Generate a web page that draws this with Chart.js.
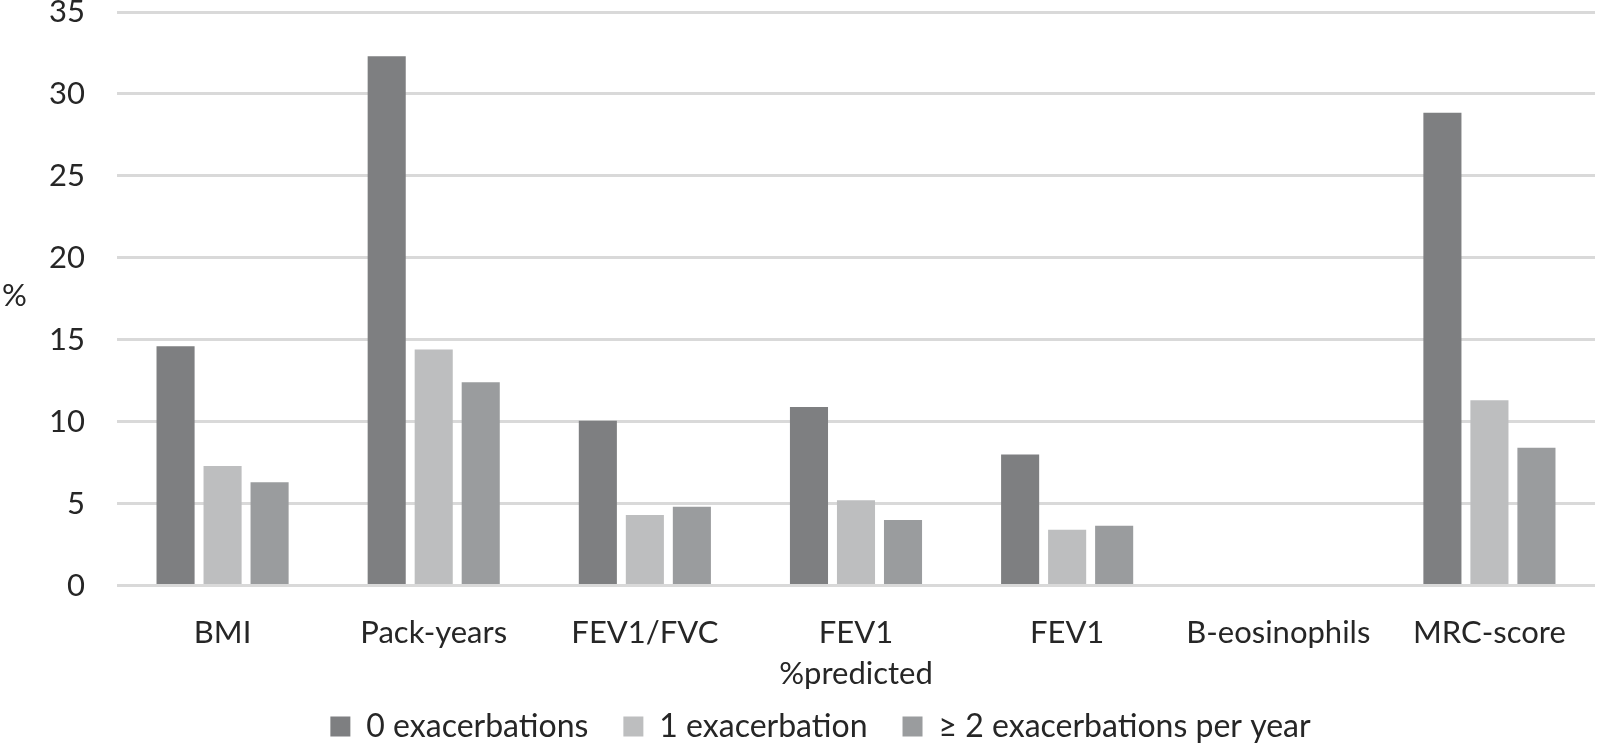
<!DOCTYPE html>
<html>
<head>
<meta charset="utf-8">
<script src="https://cdn.jsdelivr.net/npm/chart.js@4/dist/chart.umd.min.js"></script>
<style>
    html, body { margin: 0; padding: 0; background: #ffffff; }
    #wrap { width: 1600px; height: 744px; position: relative; }
</style>
</head>
<body>
<div id="wrap"><canvas id="exacChart"></canvas></div>
<script>
// values (percent)
const categories = ['BMI', 'Pack-years', 'FEV1/FVC', ['FEV1', '%predicted'], 'FEV1', 'B-eosinophils', 'MRC-score'];
const seriesNames = ['0 exacerbations', '1 exacerbation', '\u2265 2 exacerbations per year'];
const zeroExac = [14.6, 32.3, 10.05, 10.9, 8.0, null, 28.85];
const oneExac = [7.3, 14.4, 4.3, 5.2, 3.4, null, 11.3];
const twoPlusExac = [6.3, 12.4, 4.8, 4.0, 3.65, null, 8.4];
const yTicks = [0, 5, 10, 15, 20, 25, 30, 35];

const FONT = 'Lato, "Open Sans", sans-serif';
const TEXT = '#262626';

// "%" axis label sits horizontally left of the ticks
const unitLabel = {
    id: 'unitLabel',
    afterDraw(chart) {
        const ctx = chart.ctx;
        ctx.save();
        ctx.font = '31px ' + FONT;
        ctx.fillStyle = TEXT;
        ctx.textAlign = 'left';
        ctx.textBaseline = 'middle';
        ctx.fillText('%', 2, 296);
        ctx.restore();
    }
};

// legend padding is large (wide gaps between items), pull the box up a bit
const legendNudge = {
    id: 'legendNudge',
    afterLayout(chart) {
        const lg = chart.legend;
        if (!lg) return;
        lg.top -= 20;
        lg.bottom -= 20;
    }
};

const barStyle = {
    categoryPercentage: 0.668,
    barPercentage: 0.81,
    borderWidth: 0
};

new Chart(document.getElementById('exacChart'), {
    type: 'bar',
    data: {
        labels: categories,
        datasets: [
            Object.assign({ label: seriesNames[0], data: zeroExac, backgroundColor: '#7e7f81' }, barStyle),
            Object.assign({ label: seriesNames[1], data: oneExac, backgroundColor: '#bdbebf' }, barStyle),
            Object.assign({ label: seriesNames[2], data: twoPlusExac, backgroundColor: '#9a9c9e' }, barStyle)
        ]
    },
    options: {
        responsive: true,
        maintainAspectRatio: false,
        animation: false,
        layout: {
            padding: { left: 46, right: 5, top: 12, bottom: -28.5 }
        },
        scales: {
            x: {
                grid: { display: false },
                border: { display: false },
                ticks: {
                    color: TEXT,
                    padding: 19,
                    maxRotation: 0,
                    autoSkip: false,
                    font: { family: FONT, size: 31, lineHeight: 1.32 }
                },
                afterFit(scale) {
                    scale.height = 110;
                    scale.paddingLeft = 0;
                    scale.paddingRight = 0;
                }
            },
            y: {
                min: 0,
                max: 35,
                afterBuildTicks(scale) {
                    scale.ticks = yTicks.map(v => ({ value: v }));
                },
                grid: { color: '#d9d9d9', lineWidth: 3, drawTicks: false },
                border: { display: false },
                ticks: {
                    color: TEXT,
                    padding: 32,
                    font: { family: FONT, size: 31 }
                },
                afterFit(scale) {
                    scale.width = 71;
                    scale.paddingTop = 0;
                    scale.paddingBottom = 0;
                }
            }
        },
        plugins: {
            legend: {
                position: 'bottom',
                labels: {
                    color: TEXT,
                    boxWidth: 20,
                    boxHeight: 20,
                    padding: 35,
                    font: { family: FONT, size: 32 }
                }
            },
            tooltip: { enabled: false }
        }
    },
    plugins: [unitLabel, legendNudge]
});
</script>
</body>
</html>
